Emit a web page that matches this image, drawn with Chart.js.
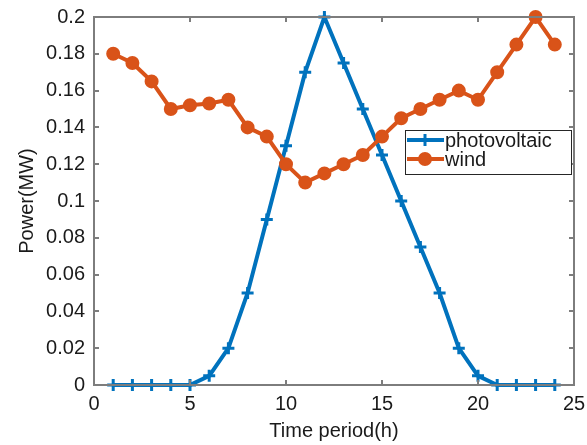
<!DOCTYPE html>
<html>
<head>
<meta charset="utf-8">
<script src="https://cdn.jsdelivr.net/npm/chart.js@4.4.0/dist/chart.umd.min.js"></script>
<style>
  html, body { margin: 0; padding: 0; background: #fff; }
  #wrap { width: 587px; height: 445px; }
</style>
</head>
<body>
<div id="wrap"><canvas id="chart"></canvas></div>
<script>
var hours = [1, 2, 3, 4, 5, 6, 7, 8, 9, 10, 11, 12, 13, 14, 15, 16, 17, 18, 19, 20, 21, 22, 23, 24];
var pv = [0, 0, 0, 0, 0, 0.005, 0.02, 0.05, 0.09, 0.13, 0.17, 0.2,
          0.175, 0.15, 0.125, 0.1, 0.075, 0.05, 0.02, 0.005, 0, 0, 0, 0];
var wind = [0.18, 0.175, 0.165, 0.15, 0.152, 0.153, 0.155, 0.14, 0.135, 0.12, 0.11, 0.115,
            0.12, 0.125, 0.135, 0.145, 0.15, 0.155, 0.16, 0.155, 0.17, 0.185, 0.2, 0.185];
var xTicks = [0, 5, 10, 15, 20, 25];
var yTicks = [0, 0.02, 0.04, 0.06, 0.08, 0.1, 0.12, 0.14, 0.16, 0.18, 0.2];

var BLUE = '#0072BD';
var ORANGE = '#D95319';
var AXIS = '#7d7d7d';
var FONT = "'Liberation Sans', Arial, sans-serif";

function toPoints(ys) {
  return hours.map(function (h, i) { return {x: h, y: ys[i]}; });
}

// box, inward ticks on all sides, legend inside the plot
var matlabPlugin = {
  id: 'matlabLook',
  afterDraw: function (chart) {
    var ctx = chart.ctx;
    var xs = chart.scales.x, ys = chart.scales.y;
    var tl = 5;
    var L = Math.round(xs.getPixelForValue(0)), R = Math.round(xs.getPixelForValue(25));
    var T = Math.round(ys.getPixelForValue(0.2)), B = Math.round(ys.getPixelForValue(0));
    ctx.save();
    ctx.strokeStyle = AXIS;
    ctx.lineWidth = 2;
    ctx.beginPath();
    ctx.rect(L, T, R - L, B - T);
    for (var i = 0; i < xTicks.length; i++) {
      var px = Math.round(xs.getPixelForValue(xTicks[i]));
      ctx.moveTo(px, B); ctx.lineTo(px, B - tl);
      ctx.moveTo(px, T); ctx.lineTo(px, T + tl);
    }
    for (var j = 0; j < yTicks.length; j++) {
      var py = Math.round(ys.getPixelForValue(yTicks[j]));
      ctx.moveTo(L, py); ctx.lineTo(L + tl, py);
      ctx.moveTo(R, py); ctx.lineTo(R - tl, py);
    }
    ctx.stroke();

    // legend
    var bx = R - 169, by = T + 113, bw = 166, bh = 44;
    ctx.lineWidth = 1;
    ctx.fillStyle = '#fff';
    ctx.fillRect(bx, by, bw, bh);
    ctx.strokeStyle = '#262626';
    ctx.strokeRect(bx + 0.5, by + 0.5, bw, bh);
    ctx.font = '20px ' + FONT;
    ctx.textBaseline = 'middle';
    ctx.textAlign = 'left';
    chart.data.datasets.forEach(function (ds, k) {
      var cy = by + 10 + k * 19;
      ctx.strokeStyle = ds.borderColor;
      ctx.lineWidth = ds.borderWidth;
      ctx.beginPath();
      ctx.moveTo(bx + 2, cy); ctx.lineTo(bx + 39, cy);
      ctx.stroke();
      ctx.fillStyle = ds.pointBackgroundColor;
      ctx.strokeStyle = ds.pointBorderColor;
      ctx.lineWidth = ds.pointBorderWidth;
      Chart.helpers.drawPoint(ctx, {
        pointStyle: ds.pointStyle, radius: ds.pointRadius,
        borderWidth: ds.pointBorderWidth, rotation: 0
      }, bx + 20, cy);
      ctx.fillStyle = '#1a1a1a';
      ctx.fillText(ds.label, bx + 40, cy + 1);
    });
    ctx.restore();
  }
};

new Chart(document.getElementById('chart'), {
  type: 'line',
  data: {
    datasets: [{
      label: 'photovoltaic',
      data: toPoints(pv),
      borderColor: BLUE,
      backgroundColor: BLUE,
      borderWidth: 4,
      pointStyle: 'cross',
      pointRadius: 6,
      pointBorderWidth: 3,
      pointBorderColor: BLUE,
      pointBackgroundColor: BLUE,
      clip: false,
      order: 1
    }, {
      label: 'wind',
      data: toPoints(wind),
      borderColor: ORANGE,
      backgroundColor: ORANGE,
      borderWidth: 4,
      pointStyle: 'circle',
      pointRadius: 6,
      pointBorderWidth: 2,
      pointBorderColor: ORANGE,
      pointBackgroundColor: ORANGE,
      clip: false,
      order: 0
    }]
  },
  options: {
    responsive: true,
    maintainAspectRatio: false,
    animation: false,
    layout: { padding: { top: 17, right: 13, left: 0, bottom: 0 } },
    plugins: { legend: { display: false }, tooltip: { enabled: false } },
    scales: {
      x: {
        type: 'linear', min: 0, max: 25,
        afterFit: function (s) { s.height = 60; s.paddingLeft = 0; s.paddingRight = 0; },
        afterBuildTicks: function (s) { s.ticks = xTicks.map(function (v) { return {value: v}; }); },
        grid: { display: false, drawTicks: false },
        border: { display: false },
        ticks: { color: '#1a1a1a', padding: 7, maxRotation: 0, font: { family: FONT, size: 20 } },
        title: { display: true, text: 'Time period(h)', color: '#1a1a1a', padding: { top: 0, bottom: 2 },
                 font: { family: FONT, size: 20 } }
      },
      y: {
        type: 'linear', min: 0, max: 0.2,
        afterFit: function (s) { s.width = 94; s.paddingTop = 0; s.paddingBottom = 0; },
        afterBuildTicks: function (s) { s.ticks = yTicks.map(function (v) { return {value: v}; }); },
        grid: { display: false, drawTicks: false },
        border: { display: false },
        ticks: {
          color: '#1a1a1a', padding: 9, font: { family: FONT, size: 20 },
          callback: function (v) { return String(Math.round(v * 100) / 100); }
        },
        title: { display: true, text: 'Power(MW)', color: '#1a1a1a', padding: { top: 15, bottom: 0 },
                 font: { family: FONT, size: 20 } }
      }
    }
  },
  plugins: [matlabPlugin]
});
</script>
</body>
</html>
